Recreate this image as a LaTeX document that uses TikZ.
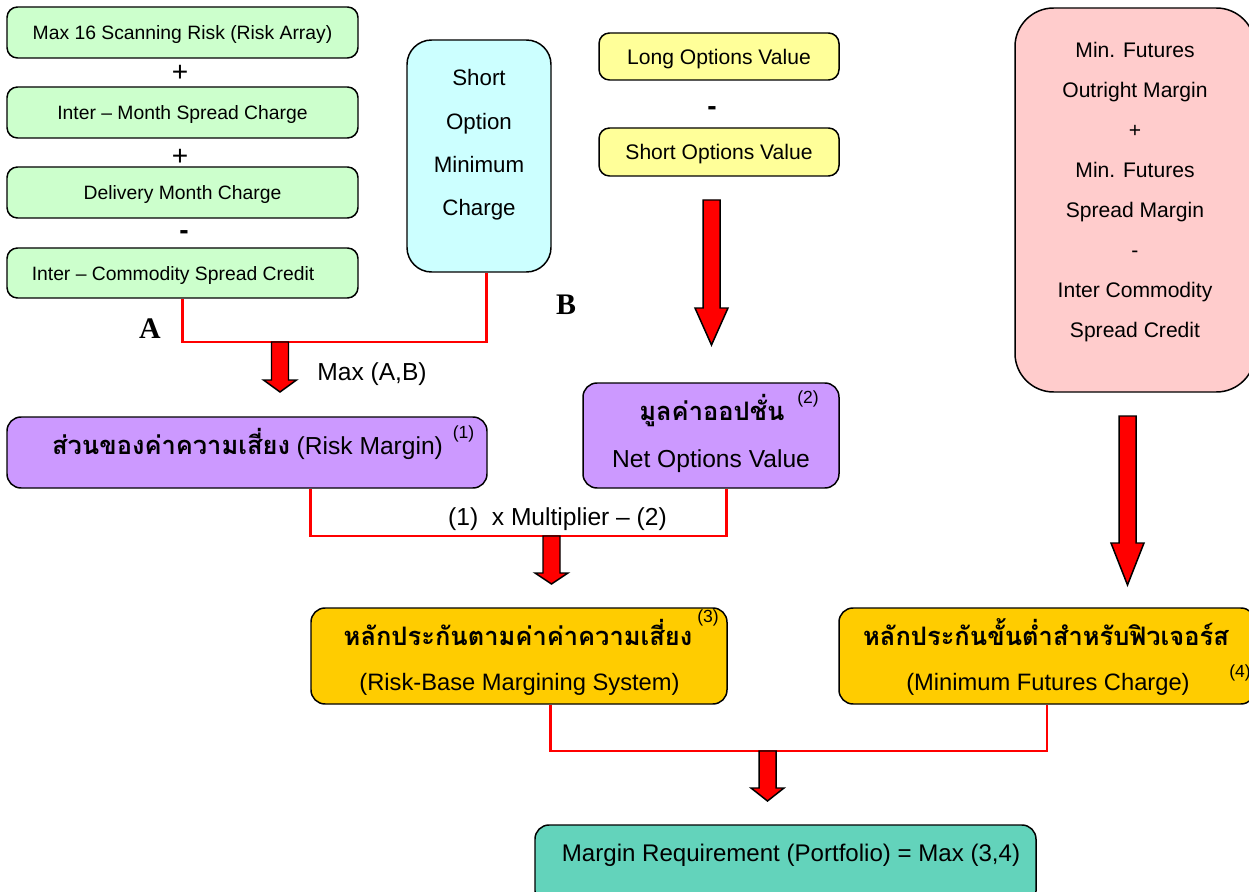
\documentclass[tikz,border=0pt]{standalone}
\usepackage{fontspec}
\setmainfont{Liberation Sans}
\newfontfamily\thaifont[Script=Thai]{Loma}
\newfontfamily\letterfont{Liberation Serif}
\usepackage{xcolor}

\definecolor{boxgreen}{HTML}{CCFFCC}
\definecolor{boxcyan}{HTML}{CCFFFF}
\definecolor{boxyellow}{HTML}{FFFF99}
\definecolor{boxpink}{HTML}{FFCCCC}
\definecolor{boxpurple}{HTML}{CC99FF}
\definecolor{boxorange}{HTML}{FFCC00}
\definecolor{boxteal}{HTML}{63D3BB}

\tikzset{
    box/.style={draw=black, line width=0.85pt, rounded corners=6pt, inner sep=0pt, text depth=0pt},
    boxsize/.style 2 args={minimum width=#1*0.02cm, minimum height=#2*0.02cm},
    rail/.style={red, line width=1.7pt},
    fat/.style={draw=black, fill=red, line width=0.85pt},
    txt/.style={anchor=base, inner sep=0pt},
    num/.style={anchor=base, inner sep=0pt, font=\fontsize{10}{12}\selectfont},
    op/.style={inner sep=0pt, font=\fontsize{16}{16}\selectfont},
}

\newcommand{\thaibold}{\thaifont\bfseries\fontsize{14.5}{18}\selectfont}
% red block arrow hanging down from #1 (head starts at #2, tip at #3)
\newcommand{\fatdown}[3]{\draw[fat, shift={(#1)}] (-8.5,0) -- (8.5,0) -- (8.5,#2) -- (16.5,#2) -- (0,#3) -- (-16.5,#2) -- (-8.5,#2) -- cycle;}

\begin{document}
\begin{tikzpicture}[x=0.02cm, y=-0.02cm]
        \useasboundingbox (0,0) rectangle (1249,892);
        \clip (0,0) rectangle (1249,892);
        %Risk array column
        \node[box, fill=boxgreen, boxsize={351}{51}, font=\fontsize{11}{13}\selectfont] (scan) at (182.5,32.5) {Max 16 Scanning Risk (Risk Array)};
        \node[box, fill=boxgreen, boxsize={351}{51}, font=\fontsize{11}{13}\selectfont] (intermonth) at (182.5,112.5) {Inter – Month Spread Charge};
        \node[box, fill=boxgreen, boxsize={351}{51}, font=\fontsize{11}{13}\selectfont] (delivery) at (182.5,192.5) {Delivery Month Charge};
        \node[box, fill=boxgreen, boxsize={351}{50}, font=\fontsize{11}{13}\selectfont] (intercom) at (182.5,273) {Inter – Commodity Spread Credit\rule{10.8pt}{0pt}};
        \node[op] (plusA) at (180,73) {+};
        \node[op] (plusB) at (180,157) {+};
        \node[op, font=\fontsize{16}{16}\selectfont\bfseries] (minusA) at (184,235) {-};
        %Short option box
        \node[box, fill=boxcyan, rounded corners=14pt, boxsize={144}{232}] (shortopt) at (479,156) {};
        \node[align=center, font=\fontsize{12.7}{24.6}\selectfont] (shorttxt) at (479,145) {Short\\Option\\Minimum\\Charge};
        %Options value
        \node[box, fill=boxyellow, boxsize={240}{47}, font=\fontsize{12}{14}\selectfont] (longval) at (719,56.5) {Long Options Value};
        \node[box, fill=boxyellow, boxsize={240}{48}, font=\fontsize{12}{14}\selectfont] (shortval) at (719,152) {Short Options Value};
        \node[op, font=\fontsize{16}{16}\selectfont\bfseries] (minusB) at (712,111) {-};
        %Futures box
        \node[box, fill=boxpink, rounded corners=22pt, boxsize={240}{384}] (futbox) at (1135,200) {};
        \node[align=center, font=\fontsize{12}{22.7}\selectfont] (futtxt) at (1135,192) {Min. Futures\\Outright Margin\\+\\Min. Futures\\Spread Margin\\-\\Inter Commodity\\Spread Credit};
        %Margin boxes
        \node[box, fill=boxpurple, rounded corners=8pt, boxsize={480}{71}] (risk) at (247,452.5) {};
        \node[txt, font=\fontsize{14}{16}\selectfont] (risktxt) at (247.5,454) {{\thaibold ส่วนของค่าความเสี่ยง} (Risk Margin)};
        \node[box, fill=boxpurple, rounded corners=8pt, boxsize={256}{105}] (netopt) at (711,435.5) {};
        \node[txt] (netth) at (712,420) {\thaibold มูลค่าออปชั่น};
        \node[txt, font=\fontsize{14}{16}\selectfont] (neten) at (711,467) {Net Options Value};
        \node[box, fill=boxorange, rounded corners=8pt, boxsize={416}{96}] (rbm) at (519,656) {};
        \node[txt] (rbmth) at (518,645) {\thaibold หลักประกันตามค่าค่าความเสี่ยง};
        \node[txt, font=\fontsize{13.5}{16}\selectfont] (rbmen) at (519.5,690) {(Risk-Base Margining System)};
        \node[box, fill=boxorange, rounded corners=8pt, boxsize={416}{96}] (mfc) at (1047,656) {};
        \node[txt] (mfcth) at (1046,645) {\thaibold หลักประกันขั้นต่ำสำหรับฟิวเจอร์ส};
        \node[txt, font=\fontsize{13.5}{16}\selectfont] (mfcen) at (1048,690) {(Minimum Futures Charge)};
        \node[box, fill=boxteal, rounded corners=8pt, boxsize={501}{80}] (total) at (785.5,865) {};
        \node[txt, font=\fontsize{13.7}{16}\selectfont] (totaltxt) at (791,861) {Margin Requirement (Portfolio) = Max (3,4)};
        %small numbers
        \node[num] (n1) at (463.5,438) {(1)};
        \node[num] (n2) at (808,403) {(2)};
        \node[num] (n3) at (708,622) {(3)};
        \node[num] (n4) at (1240,677) {(4)};
        %labels
        \node[txt, font=\fontsize{17}{20}\letterfont\bfseries] (labA) at (150,338) {A};
        \node[txt, font=\fontsize{17}{20}\letterfont\bfseries] (labB) at (566,315) {B};
        \node[txt, anchor=base west, font=\fontsize{14}{16}\selectfont] (maxab) at (317,380) {Max (A,B)};
        \node[txt, font=\fontsize{14}{16}\selectfont] (multtxt) at (557.5,525.7) {(1)\ \ x Multiplier – (2)};
        %red rails
        \coordinate (jAB) at (280,342);
        \coordinate (jM) at (551.5,536);
        \coordinate (jR) at (767.5,751);
        \coordinate (tNet) at (711.5,200);
        \coordinate (tFut) at (1127.5,416);
        \draw[rail] (intercom.south) |- (jAB) -| ([xshift=4.5pt]shortopt.south);
        \draw[rail] ([xshift=36.3pt]risk.south) |- (jM) -| ([xshift=9.1pt]netopt.south);
        \draw[rail] ([xshift=18.1pt]rbm.south) |- (jR) -| (mfc.south);
        %block arrows
        \fatdown{jAB}{38}{50}
        \fatdown{tNet}{108}{145}
        \fatdown{jM}{37}{48}
        \fatdown{tFut}{127}{169}
        \fatdown{jR}{37}{50}
\end{tikzpicture}
\end{document}
